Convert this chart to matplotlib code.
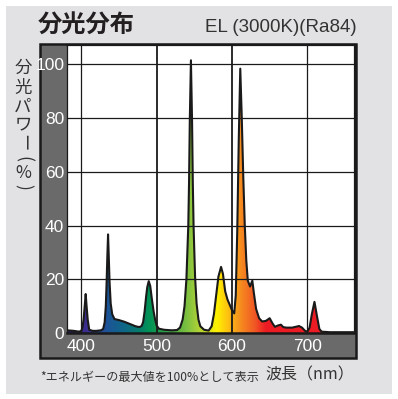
import numpy as np
import matplotlib
matplotlib.use("Agg")
import matplotlib.pyplot as plt
from matplotlib.colors import LinearSegmentedColormap
from matplotlib.patches import Rectangle, Polygon

# ---------------- data ----------------
wavelength = [381, 390, 397, 400, 401.5, 403, 404.5, 405.8, 407, 408.5, 410.5, 415, 420, 426,
              429, 431, 432.5, 433.5, 434.5, 435.5, 436.5, 437.5, 439, 441, 444, 450, 457, 465,
              472, 477, 480, 482, 484, 486, 487.5, 489.5, 491.5, 493.5, 496, 498, 500, 503, 510,
              520, 527, 531, 534.5, 537, 539.5, 542, 543, 544, 545.5, 547, 548, 549, 551, 553,
              555.5, 558, 563, 569, 573, 576, 579, 582, 585.5, 588, 591, 594, 597, 600, 603, 605,
              607, 609, 611, 613, 615, 617, 619, 621, 624, 627, 629, 632, 636, 640, 645, 650, 654,
              657, 661, 665, 668, 672, 680, 686, 689, 693, 697, 700, 703, 706, 709.5, 713, 716,
              719, 730, 764]
power = [1.0, 0.8, 0.5, 0.8, 2, 5, 10, 14.5, 10, 5, 1.2, 0.8, 0.8, 1.0,
         1.5, 4, 10, 18, 28, 36.7, 28, 19, 11, 7, 5.2, 4.8, 4.2, 3.3,
         2.5, 2.2, 2.6, 4, 8, 13.5, 17, 19.3, 17.5, 13, 8, 5, 2.8, 1.6, 1.2,
         1.0, 1.1, 2, 5, 10, 20, 40, 56, 79, 101.5, 79, 56, 40, 21, 11,
         5, 2.5, 1.2, 0.9, 2.5, 7, 14, 21, 24.6, 22, 15.5, 12.5, 10.5, 8.5, 7.3, 14,
         38, 72, 98.4, 80, 58, 40, 27, 19.5, 17.3, 19.5, 15, 9, 5.5, 4.3, 4.5, 5.5, 3.5,
         2.3, 2.8, 3.1, 2.2, 2.0, 2.0, 2.4, 2.6, 2.0, 0.8, 0.5, 2, 7, 11.6, 6, 1.5,
         0.5, 0.3, 0.3]
x_ticks = [400, 500, 600, 700]
x_ticklabels = ["400", "500", "600", "700"]
y_ticks = [0, 20, 40, 60, 80, 100]
y_ticklabels = ["0", "20", "40", "60", "80", "100"]
title = "分光分布"
subtitle = "EL (3000K)(Ra84)"
# (character, rotated for vertical writing?)
y_title_chars = [("分", False), ("光", False), ("パ", False), ("ワ", False),
                 ("ー", True), ("(", True), ("%", False), (")", True)]
footnote = "*エネルギーの最大値を100%として表示"
x_title = "波長（nm）"

# spectral colour stops (wavelength, colour)
color_stops = [(381, "#2e1a6e"), (405, "#3b2d8f"), (420, "#2a3f94"), (435, "#1c5597"),
               (455, "#0f6688"), (475, "#077a6d"), (490, "#009356"), (520, "#45a845"),
               (545, "#8cc63f"), (565, "#cddb2a"), (580, "#fff200"), (595, "#fdc010"),
               (605, "#f7a21b"), (615, "#f58220"), (630, "#f15a24"), (645, "#ed1c24"),
               (764, "#ed1c24")]

# ---------------- layout ----------------
W, H = 398, 399
fig = plt.figure(figsize=(W / 100, H / 100), dpi=100, facecolor="white")

def fx(px):
    return px / W

def fy(py):
    return 1 - py / H

# light grey panel
fig.patches.append(Rectangle((fx(6), fy(394)), fx(392) - fx(6), fy(6) - fy(394),
                             transform=fig.transFigure, facecolor="#e2e2e4",
                             edgecolor="none", zorder=-3))
# dark frame
fig.patches.append(Rectangle((fx(40), fy(358)), fx(356) - fx(40), fy(44) - fy(358),
                             transform=fig.transFigure, facecolor="#6a6a6a",
                             edgecolor="#1a1a1a", linewidth=1.8, zorder=-2))

ax_l, ax_r, ax_t, ax_b = 67, 355, 45, 333
ax = fig.add_axes([fx(ax_l), fy(ax_b), fx(ax_r) - fx(ax_l), fy(ax_t) - fy(ax_b)])
ax.set_zorder(2)
ax.set_facecolor("white")
ax.set_xlim(381, 763.3)
ax.set_ylim(0, 107.2)

# gradient fill clipped to spectrum
wl_min, wl_max = color_stops[0][0], color_stops[-1][0]
cmap = LinearSegmentedColormap.from_list(
    "spec", [((w - wl_min) / (wl_max - wl_min), c) for w, c in color_stops])
grad = np.linspace(0, 1, 800).reshape(1, -1)
im = ax.imshow(grad, cmap=cmap, aspect="auto", extent=(wl_min, wl_max, 0, 107.2),
               origin="lower", zorder=1, interpolation="bilinear")
verts = np.column_stack([[wavelength[0]] + wavelength + [wavelength[-1]],
                         [0] + power + [0]])
poly = Polygon(verts, closed=True, facecolor="none", edgecolor="none",
               transform=ax.transData)
ax.add_patch(poly)
im.set_clip_path(poly)

ax.plot(wavelength, power, color="#1a1a1a", lw=1.5, zorder=4, solid_joinstyle="round")

# grid
for xv in x_ticks:
    ax.axvline(xv, color="#1a1a1a", lw=1.3 if xv in (500, 600) else 0.9, zorder=3)
for yv in y_ticks[1:]:
    ax.axhline(yv, color="#1a1a1a", lw=0.9, zorder=3)

for side in ["left", "bottom", "top", "right"]:
    ax.spines[side].set_color("#1a1a1a")
ax.spines["left"].set_linewidth(0.9)
ax.spines["bottom"].set_linewidth(1.8)
ax.spines["top"].set_linewidth(1.6)
ax.spines["right"].set_linewidth(1.6)

num_font = ["Liberation Sans", "DejaVu Sans"]
ax.set_xticks(x_ticks)
ax.set_xticklabels(x_ticklabels, fontsize=12.5, color="white", family=num_font)
ax.set_yticks(y_ticks)
ax.set_yticklabels(y_ticklabels, fontsize=12.5, color="white", family=num_font)
ax.tick_params(axis="both", length=0)
ax.tick_params(axis="x", pad=4)
ax.tick_params(axis="y", pad=2)

jp = ["Noto Sans CJK JP", "DejaVu Sans"]
txt_color = "#231f20"
fig.text(fx(38), fy(26), title, fontsize=17.5, fontweight="bold", color=txt_color,
         family=jp, ha="left", va="center")
fig.text(fx(357), fy(28), subtitle, fontsize=13.5, color="#333333",
         family=["Liberation Sans", "DejaVu Sans"], ha="right", va="center")

y_positions = [68, 88, 107, 124, 143, 159, 173, 187]
for (ch, rot), yp in zip(y_title_chars, y_positions):
    fig.text(fx(23), fy(yp), ch, fontsize=12.5, color="#333333", family=jp,
             ha="center", va="center", rotation=-90 if rot else 0)

fig.text(fx(40), fy(377), footnote, fontsize=8.7, color="#333333", family=jp,
         ha="left", va="center")
fig.text(fx(354), fy(375), x_title, fontsize=11.5, color="#333333", family=jp,
         ha="right", va="center")

fig.savefig("out.png", dpi=100, facecolor="white")
